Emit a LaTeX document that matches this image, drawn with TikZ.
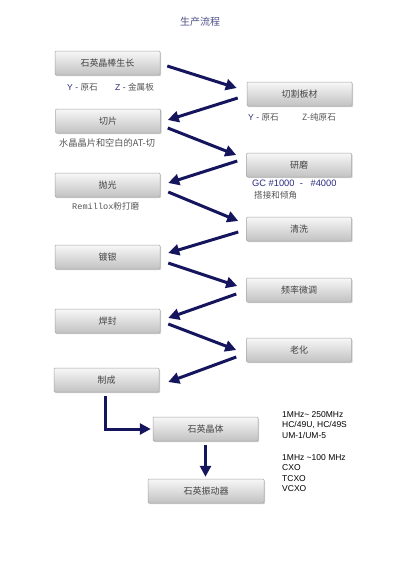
\documentclass[tikz,border=0pt]{standalone}
\usepackage{fontspec}
\setmainfont{Liberation Sans}
\newfontfamily\cjk{Noto Sans CJK SC}
\newfontfamily\monof{Liberation Mono}
\usetikzlibrary{arrows.meta,shadows,calc}
\definecolor{navy}{HTML}{15155E}
\definecolor{lblue}{HTML}{2B2B80}
\definecolor{ttl}{HTML}{50508A}
\definecolor{gtext}{HTML}{555555}
\definecolor{btext}{HTML}{444444}
\begin{document}
\begin{tikzpicture}[x=1pt,y=-1pt,
  stepbox/.style={draw=black!35,line width=0.5pt,rounded corners=1pt,top color=black!3,bottom color=black!24,
    minimum width=105pt,minimum height=24pt,inner sep=0pt,
    font=\cjk\fontsize{9}{10}\selectfont,text=btext,
    drop shadow={shadow xshift=1pt,shadow yshift=-1pt,opacity=0.35,fill=black!50}},
  arr/.style={draw=navy,line width=3pt,-{Triangle[length=11pt,width=11pt]}},
  lbl/.style={anchor=west,inner sep=0pt,font=\fontsize{8.6}{9}\selectfont,text=gtext},
  spec/.style={anchor=north west,inner sep=0pt,align=left,font=\fontsize{8.5}{10.6}\selectfont,text=black}]
\useasboundingbox[fill=white] (0,0) rectangle (400,566);
\node[font=\cjk\fontsize{10}{11}\selectfont,text=ttl] (title) at (200,22) {生产流程};
\node[stepbox] (b1) at (107.5,63) {石英晶棒生长};
\node[stepbox] (b2) at (299.5,94) {切割板材};
\node[stepbox] (b3) at (108,121) {切片};
\node[stepbox] (b4) at (299,165) {研磨};
\node[stepbox] (b5) at (107.5,185) {抛光};
\node[stepbox] (b6) at (299,229) {清洗};
\node[stepbox] (b7) at (107.5,257) {镀银};
\node[stepbox] (b8) at (299,290) {频率微调};
\node[stepbox] (b9) at (107.5,321) {焊封};
\node[stepbox] (b10) at (299,350) {老化};
\node[stepbox] (b11) at (106.5,380) {制成};
\node[stepbox] (b12) at (205.5,429) {石英晶体};
\node[stepbox,minimum width=116pt] (b13) at (206,491) {石英振动器};
% labels
\node[lbl] (l1a) at (67,87) {\textcolor{lblue}{Y -}\ {\cjk 原石}};
\node[lbl] (l1b) at (115,87) {\textcolor{lblue}{Z -}\ {\cjk 金属板}};
\node[lbl] (l2a) at (248,117) {\textcolor{lblue}{Y -}\ {\cjk 原石}};
\node[lbl] (l2b) at (302,117) {{\cjk Z-纯原石}};
\node[lbl,font=\fontsize{9.2}{10}\selectfont] (l3) at (59,143) {{\cjk 水晶晶片和空白的AT-切}};
\node[lbl,text=lblue,font=\fontsize{9.3}{10}\selectfont] (l4a) at (252,183) {GC \#1000\ \ -\ \ \ \#4000};
\node[lbl] (l4b) at (254,195) {{\cjk 搭接和倾角}};
\node[lbl] (l5) at (72,206) {{\monof Remillox}{\cjk 粉打磨}};
\node[spec] (s1) at (282,411) {1MHz\textasciitilde{} 250MHz\\HC/49U, HC/49S\\UM-1/UM-5};
\node[spec] (s2) at (282,454) {1MHz \textasciitilde100 MHz\\CXO\\TCXO\\VCXO};
% arrows
\draw[arr] ([xshift=7pt,yshift=-3pt]b1.east) -- ([xshift=-10pt,yshift=6pt]b2.west);
\draw[arr] ([xshift=-9pt,yshift=-4pt]b2.west) -- ([xshift=7pt,yshift=1pt]b3.east);
\draw[arr] ([xshift=7pt,yshift=-7pt]b3.east) -- ([xshift=-10pt,yshift=10pt]b4.west);
\draw[arr] ([xshift=-9pt,yshift=4pt]b4.west) -- ([xshift=8pt,yshift=2pt]b5.east);
\draw[arr] ([xshift=8pt,yshift=-7pt]b5.east) -- ([xshift=-8pt,yshift=8pt]b6.west);
\draw[arr] ([xshift=-8pt,yshift=-3pt]b6.west) -- ([xshift=8pt,yshift=4pt]b7.east);
\draw[arr] ([xshift=8pt,yshift=-6pt]b7.east) -- ([xshift=-9pt,yshift=4pt]b8.west);
\draw[arr] ([xshift=-10pt,yshift=-4pt]b8.west) -- ([xshift=8pt,yshift=3pt]b9.east);
\draw[arr] ([xshift=8pt,yshift=-3pt]b9.east) -- ([xshift=-10pt,yshift=0pt]b10.west);
\draw[arr] ([xshift=-10pt,yshift=-7pt]b10.west) -- ([xshift=9pt,yshift=-2pt]b11.east);
\draw[arr] ([xshift=-1.5pt,yshift=-4pt]b11.south) |- ([xshift=-2pt]b12.west);
\draw[arr] ([yshift=-4pt]b12.south) -- ([yshift=2pt]b12.south|-b13.north);
\end{tikzpicture}
\end{document}
